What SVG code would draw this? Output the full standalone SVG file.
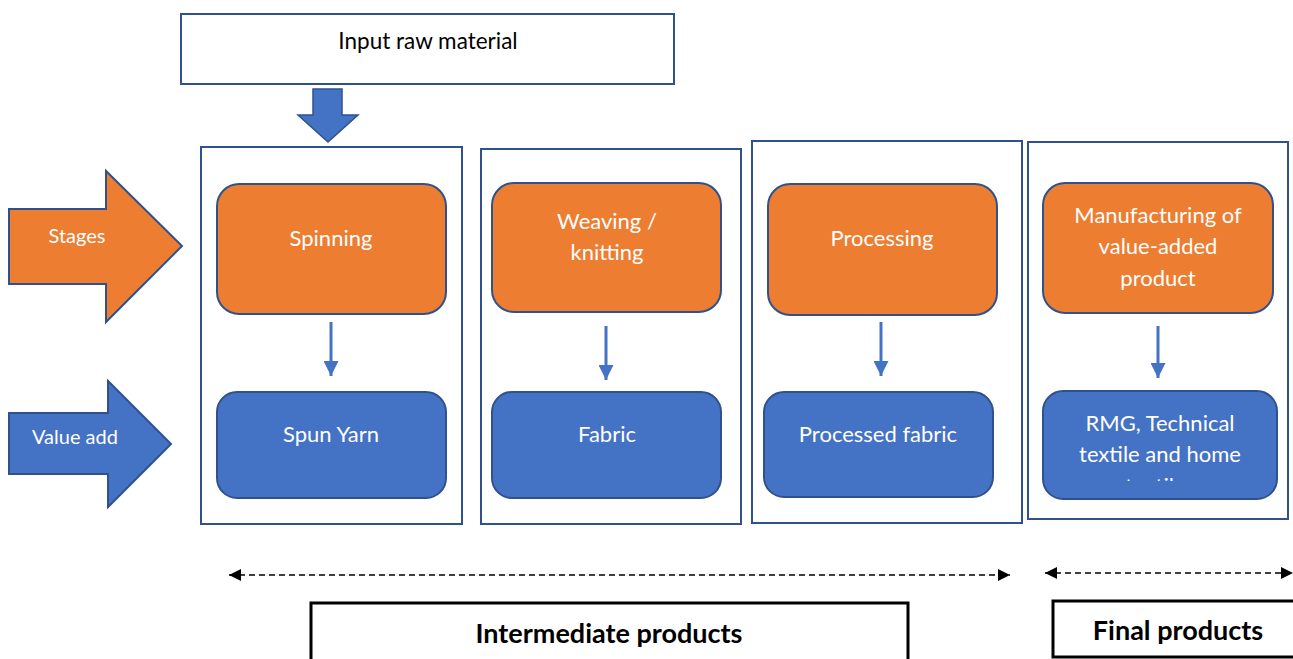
<svg xmlns="http://www.w3.org/2000/svg" width="1293" height="659" viewBox="0 0 1293 659">
<style>
.bg{fill:#ffffff}
.frame{fill:#ffffff;stroke:#2F528F;stroke-width:2}
.stage{fill:#ED7D31;stroke:#2F528F;stroke-width:2}
.value{fill:#4472C4;stroke:#2F528F;stroke-width:2}
.t{font-family:Lato,"Open Sans","Liberation Sans",sans-serif;font-size:22px;fill:#ffffff;text-anchor:middle}
.tk{font-family:Lato,"Open Sans","Liberation Sans",sans-serif;font-size:22.5px;fill:#000000;text-anchor:middle}
.tb{font-family:Lato,"Open Sans","Liberation Sans",sans-serif;font-size:27px;font-weight:bold;fill:#000000;text-anchor:middle}
.ts{font-family:Lato,"Open Sans","Liberation Sans",sans-serif;font-size:20px;fill:#ffffff;text-anchor:middle}
.flow{stroke:#4472C4;stroke-width:3;fill:none}
.dash{stroke:#000000;stroke-width:1.5;stroke-dasharray:6 4;fill:none}
.plain{fill:#ffffff;stroke:#000000;stroke-width:3}
</style>
<defs>
<marker id="ah" markerWidth="15" markerHeight="15" refX="15" refY="7.5" orient="auto" markerUnits="userSpaceOnUse" viewBox="0 0 15 15">
<path d="M0,0 L15,7.5 L0,15 Z" fill="#4472C4"/>
</marker>
<marker id="bh" markerWidth="12" markerHeight="12" refX="12" refY="6" orient="auto-start-reverse" markerUnits="userSpaceOnUse" viewBox="0 0 12 12">
<path d="M0,0 L12,6 L0,12 Z" fill="#000000"/>
</marker>
<clipPath id="rmgclip"><rect x="1043" y="391" width="234" height="90"/></clipPath>
</defs>
<rect class="bg" x="0" y="0" width="1293" height="659"/>

<g id="input">
<rect class="frame" x="181" y="14" width="493" height="70"/>
<text class="tk" x="428" y="49">Input raw material</text>
</g>
<g id="input-arrow">
<path d="M313,89 L342,89 L342,115 L358,115 L328,142 L298,115 L313,115 Z" fill="#4472C4" stroke="#2F528F" stroke-width="1.5"/>
</g>

<g id="stages-label">
<path class="stage" d="M9,209 L106,209 L106,171 L182,246 L106,322 L106,284 L9,284 Z"/>
<text class="ts" x="77" y="243">Stages</text>
</g>
<g id="valueadd-label">
<path class="value" d="M9,413 L108,413 L108,381 L171,444 L108,507 L108,474 L9,474 Z"/>
<text class="ts" x="75" y="444">Value add</text>
</g>

<g id="col1">
<rect class="frame" x="201" y="147" width="261" height="377"/>
</g>
<g id="spinning">
<rect class="stage" x="217" y="184" width="229" height="130" rx="22"/>
<text class="t" x="331" y="246">Spinning</text>
</g>
<g id="spunyarn">
<rect class="value" x="217" y="392" width="229" height="106" rx="20"/>
<text class="t" x="331" y="442">Spun Yarn</text>
</g>

<g id="col2">
<rect class="frame" x="481" y="149" width="260" height="375"/>
</g>
<g id="weaving">
<rect class="stage" x="492" y="183" width="229" height="129" rx="22"/>
<text class="t" x="607" y="229">Weaving /</text>
<text class="t" x="607" y="260">knitting</text>
</g>
<g id="fabric">
<rect class="value" x="492" y="392" width="229" height="106" rx="20"/>
<text class="t" x="607" y="442">Fabric</text>
</g>

<g id="col3">
<rect class="frame" x="752" y="141" width="270" height="382"/>
</g>
<g id="processing">
<rect class="stage" x="768" y="184" width="229" height="131" rx="22"/>
<text class="t" x="882" y="246">Processing</text>
</g>
<g id="processedfabric">
<rect class="value" x="764" y="392" width="229" height="105" rx="20"/>
<text class="t" x="878" y="442">Processed fabric</text>
</g>

<g id="col4">
<rect class="frame" x="1028" y="142" width="260" height="377"/>
</g>
<g id="manufacturing">
<rect class="stage" x="1043" y="183" width="230" height="130" rx="22"/>
<text class="t" x="1158" y="223">Manufacturing of</text>
<text class="t" x="1158" y="254">value-added</text>
<text class="t" x="1158" y="286">product</text>
</g>
<g id="rmg">
<rect class="value" x="1043" y="391" width="234" height="108" rx="20"/>
<text class="t" x="1160" y="431">RMG, Technical</text>
<text class="t" x="1160" y="462">textile and home</text>
<text class="t" x="1160" y="494" clip-path="url(#rmgclip)">textiles</text>
</g>

<g id="connectors">
<line class="flow" x1="331" y1="322" x2="331" y2="376" marker-end="url(#ah)"/>
<line class="flow" x1="606" y1="326" x2="606" y2="380" marker-end="url(#ah)"/>
<line class="flow" x1="881" y1="322" x2="881" y2="376" marker-end="url(#ah)"/>
<line class="flow" x1="1158" y1="326" x2="1158" y2="378" marker-end="url(#ah)"/>
<line class="dash" x1="229" y1="575" x2="1010" y2="575" marker-start="url(#bh)" marker-end="url(#bh)"/>
<line class="dash" x1="1045" y1="573" x2="1293" y2="573" marker-start="url(#bh)" marker-end="url(#bh)"/>
</g>

<g id="intermediate">
<rect class="plain" x="311" y="603" width="597" height="70"/>
<text class="tb" x="609" y="643">Intermediate products</text>
</g>
<g id="final">
<rect class="plain" x="1053" y="601" width="260" height="56"/>
<text class="tb" x="1178" y="640">Final products</text>
</g>
</svg>
